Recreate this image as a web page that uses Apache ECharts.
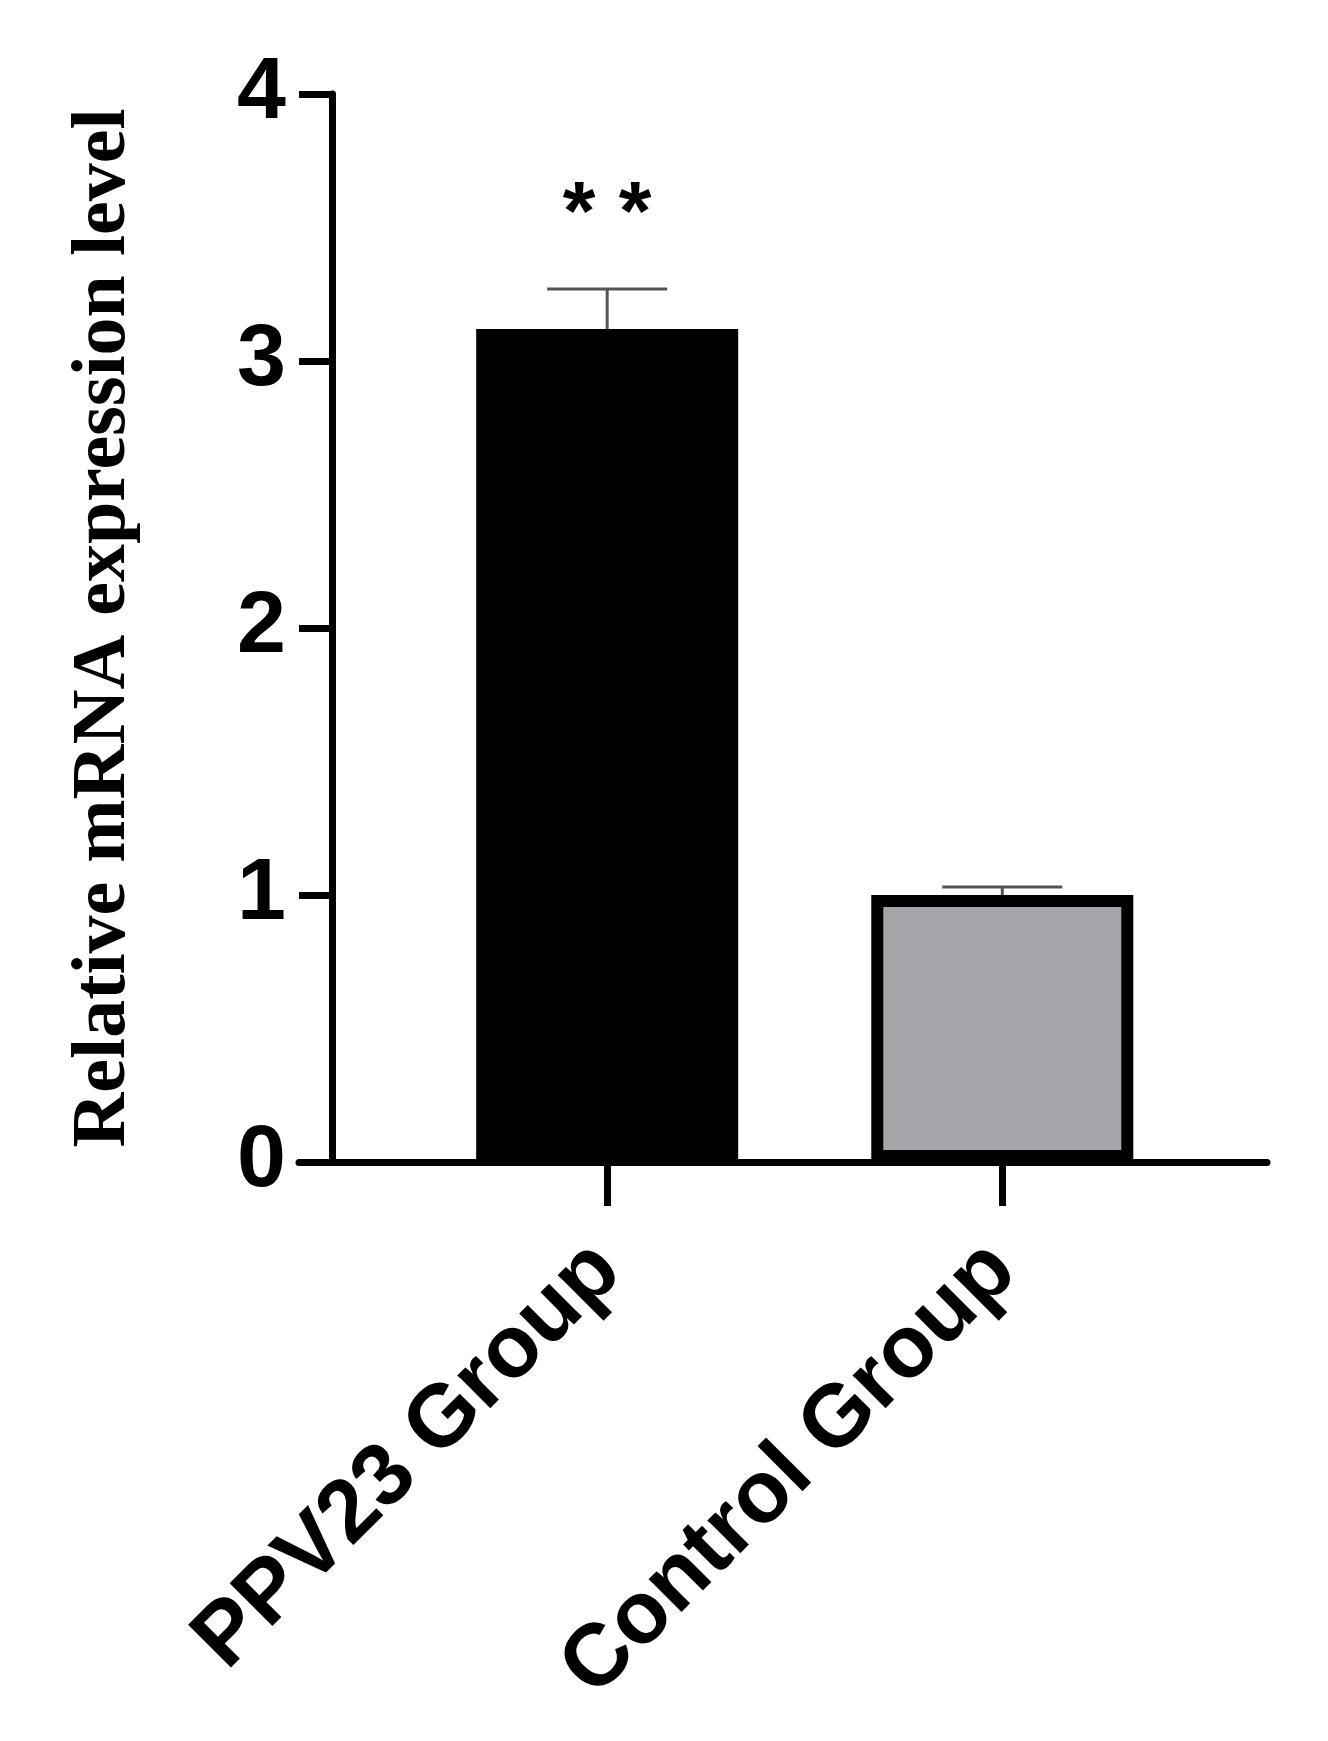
<!DOCTYPE html>
<html>
<head>
<meta charset="utf-8">
<script src="https://cdn.jsdelivr.net/npm/echarts@6/dist/echarts.min.js"></script>
<style>html,body{margin:0;background:#fff}#chart{width:1328px;height:1741px}</style>
</head>
<body>
<div id="chart"></div>
<script>
var categories = ['PPV23 Group', 'Control Group'];
var values = [3.12, 1.0];
var errors = [0.15, 0.03];
var colors = ['#000000', '#a6a5aa'];
var yTicks = [0, 1, 2, 3, 4];

var chart = echarts.init(document.getElementById('chart'));
var barData = values.map(function (v, i) {
    return {
        value: [i, v],
        itemStyle: { color: colors[i], borderColor: '#000', borderWidth: i === 0 ? 0 : 12 }
    };
});
chart.setOption({
    animation: false,
    grid: { left: 299, right: 61, top: 94, bottom: 579 },
    xAxis: {
        type: 'value', min: -0.78, max: 1.67,
        splitLine: { show: false },
        axisLine: { onZero: false, lineStyle: { color: '#000', width: 7 } },
        axisTick: { customValues: [0, 1], length: 44, lineStyle: { color: '#000', width: 7 } },
        axisLabel: {
            customValues: [0, 1], rotate: 45, margin: 95,
            formatter: function (v) { return categories[Math.round(v)]; },
            fontFamily: 'Liberation Sans', fontWeight: 'bold', fontSize: 88, color: '#000'
        }
    },
    yAxis: {
        type: 'value', min: 0, max: 4, interval: 1, offset: -33,
        splitLine: { show: false },
        axisLine: { show: true, onZero: false, lineStyle: { color: '#000', width: 7 } },
        axisTick: { show: true, length: 33, lineStyle: { color: '#000', width: 7 } },
        axisLabel: {
            margin: 46, fontFamily: 'Liberation Sans', fontWeight: 'bold', fontSize: 88, color: '#000',
            formatter: function (v) { return yTicks.indexOf(v) >= 0 ? String(v) : ''; }
        },
        name: 'Relative mRNA expression level', nameLocation: 'middle', nameGap: 190,
        nameTextStyle: { fontFamily: 'Liberation Serif', fontWeight: 'bold', fontSize: 76, color: '#000' }
    },
    series: [{
        type: 'bar', barWidth: 262, data: barData,
        label: {
            show: true, position: 'top', distance: 70,
            formatter: function (p) { return p.dataIndex === 0 ? '* *' : ''; },
            fontFamily: 'Liberation Sans', fontWeight: 'bold', fontSize: 84, color: '#000'
        }
    }, {
        type: 'custom', z: 1,
        data: values.map(function (v, i) { return [i, v, v + errors[i]]; }),
        renderItem: function (params, api) {
            var base = api.coord([api.value(0), api.value(1)]);
            var top = api.coord([api.value(0), api.value(2)]);
            var hw = 60;
            var st = { stroke: '#555', lineWidth: 3 };
            return { type: 'group', children: [
                { type: 'line', shape: { x1: base[0], y1: base[1], x2: top[0], y2: top[1] }, style: st },
                { type: 'line', shape: { x1: top[0] - hw, y1: top[1], x2: top[0] + hw, y2: top[1] }, style: st }
            ] };
        }
    }]
});
</script>
</body>
</html>
